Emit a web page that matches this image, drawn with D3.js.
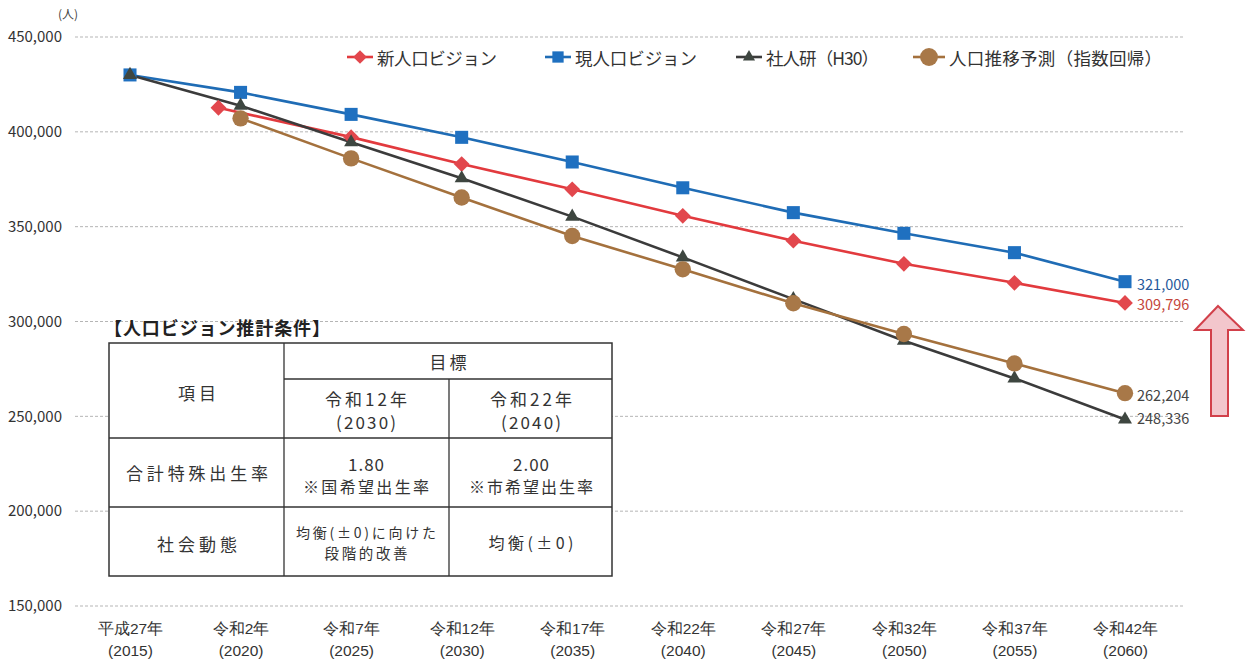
<!DOCTYPE html>
<html><head><meta charset="utf-8">
<script src="https://cdn.jsdelivr.net/npm/d3@7"></script>
<style>
html,body{margin:0;padding:0;background:#fff;}
svg{display:block;font-family:"Noto Sans CJK JP","Noto Sans",sans-serif;}
</style></head>
<body><svg id="c" width="1247" height="662"></svg>
<script>
// ---- data ----
const years = [2015, 2020, 2025, 2030, 2035, 2040, 2045, 2050, 2055, 2060];
const tickEra = ["平成27年","令和2年","令和7年","令和12年","令和17年","令和22年","令和27年","令和32年","令和37年","令和42年"];
const yTicks = [150000, 200000, 250000, 300000, 350000, 400000, 450000];

const newVisionYears = [2019, 2025, 2030, 2035, 2040, 2045, 2050, 2055, 2060];
const newVision = [412700, 397200, 383000, 369700, 355700, 342600, 330400, 320400, 309796];

const currentVisionYears = years;
const currentVision = [430000, 420800, 409200, 397100, 384100, 370500, 357400, 346500, 336300, 321000];

const ipssYears = years;
const ipss = [430000, 413800, 394500, 375500, 355300, 333800, 311800, 289900, 270000, 248336];

const trendYears = [2020, 2025, 2030, 2035, 2040, 2045, 2050, 2055, 2060];
const trend = [407100, 386000, 365400, 345100, 327500, 309600, 293400, 277900, 262204];

const seriesNames = ["新人口ビジョン", "現人口ビジョン", "社人研（H30）", "人口推移予測（指数回帰）"];
const endLabels = ["309,796", "321,000", "248,336", "262,204"];

const tableTitle = "【人口ビジョン推計条件】";

// ---- setup ----
const svg = d3.select("#c");
const x = d3.scaleLinear().domain([2015, 2060]).range([130, 1125]);
const y = d3.scaleLinear().domain([150000, 450000]).range([606, 37]);

const series = [
  {name: seriesNames[0], xs: newVisionYears, vs: newVision, color: "#e23a3e", fill: "#e2474d", sym: d3.symbolSquare, rot: 45, size: 125, label: endLabels[0], lcolor: "#c4453a", ldy: 1, lw: 120},
  {name: seriesNames[1], xs: currentVisionYears, vs: currentVision, color: "#1f6cb5", fill: "#1f70c0", sym: d3.symbolSquare, rot: 0, size: 170, label: endLabels[1], lcolor: "#27599a", ldy: 2, lw: 122},
  {name: seriesNames[2], xs: ipssYears, vs: ipss, color: "#3b3b3b", fill: "#3e4640", sym: d3.symbolTriangle, rot: 0, size: 85, label: endLabels[2], lcolor: "#444", ldy: -2, lw: 113},
  {name: seriesNames[3], xs: trendYears, vs: trend, color: "#a4713d", fill: "#a87848", sym: d3.symbolCircle, rot: 0, size: 210, label: endLabels[3], lcolor: "#444", ldy: 1, lw: 213}
];

// gridlines
svg.append("g").selectAll("line").data(yTicks).join("line")
  .attr("x1", 75).attr("x2", 1185)
  .attr("y1", d => y(d)).attr("y2", d => y(d))
  .attr("stroke", "#b5b5b5").attr("stroke-width", 1).attr("stroke-dasharray", "3,2");

// y axis
const ya = svg.append("g").attr("transform", "translate(64,0)")
  .call(d3.axisLeft(y).tickValues(yTicks).tickFormat(d3.format(",")).tickSize(0).tickPadding(2));
ya.select(".domain").remove();
ya.selectAll("text").attr("font-size", 15).attr("fill", "#333")
  .attr("font-family", "'Noto Sans CJK JP',sans-serif");

svg.append("text").attr("x", 68).attr("y", 13).attr("text-anchor", "middle")
  .attr("dominant-baseline", "central").attr("font-size", 12).attr("fill", "#444").text("(人)");

// x axis
const xa = svg.append("g").attr("transform", "translate(0,606)")
  .call(d3.axisBottom(x).tickValues(years).tickSize(0).tickFormat(""));
xa.select(".domain").remove();
xa.selectAll(".tick").each(function(d, i) {
  const t = d3.select(this).append("text").attr("fill", "#333").attr("font-size", 15.5)
    .attr("text-anchor", "middle");
  t.append("tspan").attr("x", 0).attr("y", 28).text(tickEra[i]);
  t.append("tspan").attr("x", 0).attr("y", 50).text("(" + d + ")");
});

// table
const tg = svg.append("g");
tg.append("text").attr("x", 104).attr("y", 327).attr("dominant-baseline", "central")
  .attr("font-size", 18).attr("font-weight", "bold").attr("fill", "#222")
  .attr("textLength", 226).attr("lengthAdjust", "spacing").text(tableTitle);
tg.append("rect").attr("x", 109).attr("y", 343).attr("width", 503).attr("height", 233)
  .attr("fill", "#fff").attr("stroke", "#333").attr("stroke-width", 1.5);
const tl = [[284,343,284,576],[449,379,449,576],[284,379,612,379],[109,438,612,438],[109,507,612,507]];
tg.selectAll("line").data(tl).join("line")
  .attr("x1", d => d[0]).attr("y1", d => d[1]).attr("x2", d => d[2]).attr("y2", d => d[3])
  .attr("stroke", "#333").attr("stroke-width", 1.3);
// [text, cx, cy, font size, width]
const cells = [
  ["目標", 448, 361, 17, 37],
  ["項目", 197, 392, 17, 38],
  ["令和12年", 366, 398, 17, 82], ["(2030)", 366, 421, 17, 60],
  ["令和22年", 531, 398, 17, 82], ["(2040)", 531, 421, 17, 60],
  ["合計特殊出生率", 197, 472, 17, 142],
  ["1.80", 366, 463, 17, 36], ["※国希望出生率", 366, 486, 16, 126],
  ["2.00", 531, 463, 17, 36], ["※市希望出生率", 531, 486, 16, 124],
  ["社会動態", 197, 543, 17, 80],
  ["均衡(±0)に向けた", 366, 532, 14, 140], ["段階的改善", 366, 552, 14.5, 83],
  ["均衡(±0)", 531, 542, 16, 85]
];
tg.selectAll("text.cell").data(cells).join("text").attr("class", "cell")
  .attr("x", d => d[1]).attr("y", d => d[2]).attr("text-anchor", "middle")
  .attr("dominant-baseline", "central").attr("font-size", d => d[3])
  .attr("textLength", d => d[4]).attr("lengthAdjust", "spacing")
  .attr("fill", "#333").text(d => d[0]);

// lines & markers
const line = d3.line().x(d => x(d[0])).y(d => y(d[1]));
series.forEach(s => {
  const pts = s.xs.map((yr, i) => [yr, s.vs[i]]);
  svg.append("path").datum(pts).attr("d", line).attr("fill", "none")
    .attr("stroke", s.color).attr("stroke-width", 2.6);
});
series.forEach(s => {
  const pts = s.xs.map((yr, i) => [yr, s.vs[i]]);
  svg.append("g").selectAll("path").data(pts).join("path")
    .attr("transform", d => `translate(${x(d[0])},${y(d[1])}) rotate(${s.rot})`)
    .attr("d", d3.symbol().type(s.sym).size(s.size))
    .attr("fill", s.fill);
  const last = pts[pts.length - 1];
  svg.append("text").attr("x", x(last[0]) + 12).attr("y", y(last[1]) + s.ldy)
    .attr("dominant-baseline", "central").attr("font-size", 14.5)
    .attr("fill", s.lcolor).text(s.label);
});

// legend
const legPos = [[347, 26], [545, 26], [736, 26], [913, 32]];
series.forEach((s, i) => {
  const [lx, lw] = legPos[i];
  const g = svg.append("g");
  g.append("line").attr("x1", lx).attr("x2", lx + lw).attr("y1", 57).attr("y2", 57)
    .attr("stroke", s.color).attr("stroke-width", 2.6);
  g.append("path").attr("transform", `translate(${lx + lw / 2},57) rotate(${s.rot})`)
    .attr("d", d3.symbol().type(s.sym).size(s.size * (i === 3 ? 1.2 : 0.75))).attr("fill", s.fill);
  g.append("text").attr("x", lx + lw + 4).attr("y", 57).attr("dominant-baseline", "central")
    .attr("font-size", 17.5).attr("fill", "#333")
    .attr("textLength", s.lw).attr("lengthAdjust", "spacing").text(s.name);
});

// up arrow
const arrowPts = [[1218,306],[1243,330],[1228,330],[1228,416],[1211,416],[1211,330],[1195,330]];
svg.append("path").attr("d", d3.line()(arrowPts) + "Z")
  .attr("fill", "#f3c6cc").attr("stroke", "#d2404a").attr("stroke-width", 2);
</script></body></html>
